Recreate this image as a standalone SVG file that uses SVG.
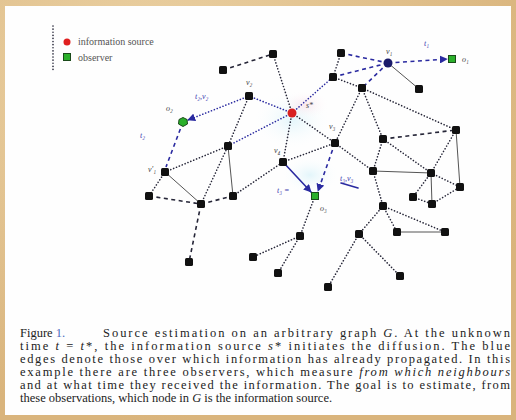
<svg xmlns="http://www.w3.org/2000/svg" width="516" height="420" viewBox="0 0 516 420">
<defs>
<radialGradient id="bgA" cx="0.3" cy="0.2" r="0.8"><stop offset="0" stop-color="#ecd3a6"/><stop offset="1" stop-color="#d9b47c"/></radialGradient>
<radialGradient id="haze" cx="0.5" cy="0.5" r="0.5"><stop offset="0" stop-color="#c8edf7" stop-opacity="0.5"/><stop offset="1" stop-color="#ffffff" stop-opacity="0"/></radialGradient>
<radialGradient id="hazeP" cx="0.5" cy="0.5" r="0.5"><stop offset="0" stop-color="#f8c8d8" stop-opacity="0.4"/><stop offset="1" stop-color="#ffffff" stop-opacity="0"/></radialGradient>
<marker id="ah" viewBox="0 0 10 10" refX="9" refY="5" markerWidth="5" markerHeight="5" orient="auto"><path d="M0,0 L10,5 L0,10 z" fill="#2a2aa0"/></marker>
</defs>
<style>
.e{fill:none;stroke:#262638;stroke-width:1.6;stroke-linecap:round}
.dot{stroke-dasharray:0.1 3}
.dash{stroke-dasharray:4 3.5;stroke-linecap:butt}
.sol{stroke-width:1;stroke:#555}
.b{stroke:#2a2aa0}
.nd{fill:#111}
.lb{font-family:"Liberation Serif",serif;font-style:italic;font-size:8px;fill:#444}
.bl{font-family:"Liberation Serif",serif;font-style:italic;font-size:8px;fill:#4040b0}
.cap{font-family:"Liberation Serif",serif;font-size:12.5px;fill:#222}
.lg{font-family:"Liberation Serif",serif;font-size:10px;fill:#555}
</style>
<rect x="0" y="0" width="516" height="420" fill="url(#bgA)"/>
<rect x="5" y="6" width="506" height="409" fill="#fefefe"/>
<ellipse cx="292" cy="120" rx="40" ry="30" fill="url(#haze)"/>
<ellipse cx="305" cy="105" rx="25" ry="15" fill="url(#hazeP)"/>
<ellipse cx="310" cy="175" rx="30" ry="20" fill="url(#haze)"/>

<g id="legend">
<line x1="53" y1="26" x2="53" y2="70" class="e dot"/>
<circle cx="67" cy="42" r="3.5" fill="#e02020"/>
<text x="78" y="45" class="lg">information source</text>
<rect x="63.5" y="53.5" width="7" height="7" fill="#2bb02b" stroke="#1a4a1a" stroke-width="1"/>
<text x="78" y="61" class="lg">observer</text>
</g>

<g id="connectors">
<line x1="223" y1="70" x2="273" y2="54" class="e dash"/>
<line x1="273" y1="54" x2="292" y2="113" class="e dot"/>
<line x1="341" y1="53" x2="388" y2="63" class="e dash b"/>
<line x1="333" y1="77" x2="388" y2="63" class="e dash b"/>
<line x1="388" y1="63" x2="362" y2="88" class="e dash b"/>
<line x1="388" y1="63" x2="447" y2="59" class="e dash b" marker-end="url(#ah)"/>
<line x1="388" y1="63" x2="419" y2="89" class="e sol"/>
<line x1="341" y1="53" x2="333" y2="77" class="e dot"/>
<line x1="292" y1="113" x2="333" y2="77" class="e dot b"/>
<line x1="333" y1="77" x2="362" y2="88" class="e dot"/>
<line x1="362" y1="88" x2="456" y2="130" class="e dot"/>
<line x1="362" y1="88" x2="383" y2="139" class="e dot"/>
<line x1="362" y1="88" x2="335" y2="143" class="e dot"/>
<line x1="383" y1="139" x2="456" y2="130" class="e dash"/>
<line x1="456" y1="130" x2="431" y2="173" class="e dot"/>
<line x1="456" y1="130" x2="460" y2="187" class="e sol"/>
<line x1="383" y1="139" x2="373" y2="171" class="e dot"/>
<line x1="383" y1="139" x2="431" y2="173" class="e dot"/>
<line x1="373" y1="171" x2="431" y2="173" class="e sol"/>
<line x1="431" y1="173" x2="460" y2="187" class="e dot"/>
<line x1="431" y1="173" x2="413" y2="197" class="e dot"/>
<line x1="431" y1="173" x2="432" y2="204" class="e sol"/>
<line x1="413" y1="197" x2="432" y2="204" class="e dot"/>
<line x1="432" y1="204" x2="460" y2="187" class="e dot"/>
<line x1="335" y1="143" x2="373" y2="171" class="e dot"/>
<line x1="373" y1="171" x2="383" y2="206" class="e dot"/>
<line x1="383" y1="206" x2="397" y2="232" class="e dot"/>
<line x1="383" y1="206" x2="445" y2="232" class="e dot"/>
<line x1="397" y1="232" x2="445" y2="232" class="e sol"/>
<line x1="383" y1="206" x2="359" y2="234" class="e dot"/>
<line x1="359" y1="234" x2="328" y2="287" class="e dot"/>
<line x1="359" y1="234" x2="400" y2="276" class="e dot"/>
<line x1="292" y1="113" x2="249" y2="96" class="e dot b"/>
<line x1="292" y1="113" x2="228" y2="146" class="e dot b"/>
<line x1="292" y1="113" x2="283" y2="162" class="e dot"/>
<line x1="292" y1="113" x2="335" y2="143" class="e dot"/>
<line x1="249" y1="96" x2="228" y2="146" class="e dot"/>
<line x1="249" y1="96" x2="188" y2="120" class="e dot b" marker-end="url(#ah)"/>
<line x1="183" y1="122" x2="166" y2="167" class="e dash b"/>
<line x1="165" y1="172" x2="228" y2="146" class="e dot"/>
<line x1="165" y1="172" x2="149" y2="196" class="e dot"/>
<line x1="165" y1="172" x2="201" y2="204" class="e sol"/>
<line x1="149" y1="196" x2="201" y2="204" class="e dash"/>
<line x1="201" y1="204" x2="233" y2="196" class="e dash"/>
<line x1="201" y1="204" x2="228" y2="146" class="e dot"/>
<line x1="228" y1="146" x2="233" y2="196" class="e sol"/>
<line x1="233" y1="196" x2="283" y2="162" class="e dot"/>
<line x1="283" y1="162" x2="335" y2="143" class="e dot"/>
<line x1="283" y1="162" x2="311" y2="192" class="e b" marker-end="url(#ah)"/>
<line x1="335" y1="143" x2="318" y2="191" class="e dash b" marker-end="url(#ah)"/>
<line x1="201" y1="204" x2="189" y2="262" class="e dash"/>
<line x1="315" y1="196" x2="300" y2="236" class="e dot"/>
<line x1="300" y1="236" x2="253" y2="257" class="e dot"/>
<line x1="300" y1="236" x2="278" y2="273" class="e dot"/>
<line x1="341" y1="183" x2="358" y2="188" class="e b" stroke-width="1"/>
</g>

<g id="n-a"><rect x="219" y="66" width="8" height="8" rx="1.5" class="nd"/></g>
<g id="n-b"><rect x="269" y="50" width="8" height="8" rx="1.5" class="nd"/></g>
<g id="n-c"><rect x="337" y="49" width="8" height="8" rx="1.5" class="nd"/></g>
<g id="n-v1"><circle cx="388" cy="63" r="4.5" fill="#1a1a6a"/><text x="386" y="54" class="lb">v₁</text></g>
<g id="n-o1"><rect x="448.5" y="55.5" width="7" height="7" fill="#2bb02b" stroke="#1a4a1a"/><text x="462" y="62" class="lb">o₁</text><text x="424" y="46" class="bl">t₁</text></g>
<g id="n-d"><rect x="329" y="73" width="8" height="8" rx="1.5" class="nd"/></g>
<g id="n-e"><rect x="358" y="84" width="8" height="8" rx="1.5" class="nd"/></g>
<g id="n-f"><rect x="415" y="85" width="8" height="8" rx="1.5" class="nd"/></g>
<g id="n-g"><rect x="452" y="126" width="8" height="8" rx="1.5" class="nd"/></g>
<g id="n-h"><rect x="379" y="135" width="8" height="8" rx="1.5" class="nd"/></g>
<g id="n-v2"><rect x="245" y="92" width="8" height="8" rx="1.5" class="nd"/><text x="246" y="85" class="lb">v₂</text></g>
<g id="n-s"><circle cx="292" cy="113" r="4.5" fill="#d82020"/><text x="306" y="108" class="lb" fill="#e88">s*</text></g>
<g id="n-o2"><polygon points="183,117.5 187,119.5 187.5,124 183,126.5 178.5,124 179,119.5" fill="#2bb02b" stroke="#1a4a1a"/><text x="166" y="111" class="lb">o₂</text><text x="195" y="99" class="bl">t₂,v₂</text><text x="140" y="138" class="bl">t₂</text></g>
<g id="n-v3"><rect x="331" y="139" width="8" height="8" rx="1.5" class="nd"/><text x="329" y="129" class="lb">v₃</text></g>
<g id="n-10"><rect x="224" y="142" width="8" height="8" rx="1.5" class="nd"/></g>
<g id="n-v4"><rect x="279" y="158" width="8" height="8" rx="1.5" class="nd"/><text x="274" y="153" class="lb">v₄</text></g>
<g id="n-12"><rect x="161" y="168" width="8" height="8" rx="1.5" class="nd"/><text x="148" y="172" class="lb">v′₁</text></g>
<g id="n-13"><rect x="145" y="192" width="8" height="8" rx="1.5" class="nd"/></g>
<g id="n-14"><rect x="197" y="200" width="8" height="8" rx="1.5" class="nd"/></g>
<g id="n-15"><rect x="229" y="192" width="8" height="8" rx="1.5" class="nd"/></g>
<g id="n-o3"><rect x="311.5" y="192.5" width="7" height="7" fill="#2bb02b" stroke="#1a4a1a"/><text x="320" y="211" class="lb">o₃</text><text x="277" y="193" class="bl">t₃ =</text><text x="340" y="181" class="bl">t₃,v₃</text></g>
<g id="n-16"><rect x="369" y="167" width="8" height="8" rx="1.5" class="nd"/></g>
<g id="n-17"><rect x="427" y="169" width="8" height="8" rx="1.5" class="nd"/></g>
<g id="n-18"><rect x="456" y="183" width="8" height="8" rx="1.5" class="nd"/></g>
<g id="n-19"><rect x="409" y="193" width="8" height="8" rx="1.5" class="nd"/></g>
<g id="n-20"><rect x="428" y="200" width="8" height="8" rx="1.5" class="nd"/></g>
<g id="n-21"><rect x="379" y="202" width="8" height="8" rx="1.5" class="nd"/></g>
<g id="n-22"><rect x="393" y="228" width="8" height="8" rx="1.5" class="nd"/></g>
<g id="n-23"><rect x="441" y="228" width="8" height="8" rx="1.5" class="nd"/></g>
<g id="n-24"><rect x="355" y="230" width="8" height="8" rx="1.5" class="nd"/></g>
<g id="n-25"><rect x="296" y="232" width="8" height="8" rx="1.5" class="nd"/></g>
<g id="n-26"><rect x="249" y="253" width="8" height="8" rx="1.5" class="nd"/></g>
<g id="n-27"><rect x="185" y="258" width="8" height="8" rx="1.5" class="nd"/></g>
<g id="n-28"><rect x="274" y="269" width="8" height="8" rx="1.5" class="nd"/></g>
<g id="n-29"><rect x="324" y="283" width="8" height="8" rx="1.5" class="nd"/></g>
<g id="n-30"><rect x="396" y="272" width="8" height="8" rx="1.5" class="nd"/></g>

<g id="caption">
<text x="20" y="337" class="cap">Figure <tspan fill="#4a6ac0">1.</tspan></text>
<text x="103" y="337" class="cap" textLength="407" lengthAdjust="spacing">Source estimation on an arbitrary graph <tspan font-style="italic">G</tspan>. At the unknown</text>
<text x="20" y="350" class="cap" textLength="490" lengthAdjust="spacing">time <tspan font-style="italic">t</tspan> = <tspan font-style="italic">t</tspan>*, the information source <tspan font-style="italic">s</tspan>* initiates the diffusion. The blue</text>
<text x="20" y="363" class="cap" textLength="490" lengthAdjust="spacing" fill="#555">edges denote those over which information has already propagated. In this</text>
<text x="20" y="376" class="cap" textLength="490" lengthAdjust="spacing">example there are three observers, which measure <tspan font-style="italic">from which neighbours</tspan></text>
<text x="20" y="389" class="cap" textLength="490" lengthAdjust="spacing">and at what time they received the information. The goal is to estimate, from</text>
<text x="20" y="402" class="cap">these observations, which node in <tspan font-style="italic">G</tspan> is the information source.</text>
</g>
</svg>
